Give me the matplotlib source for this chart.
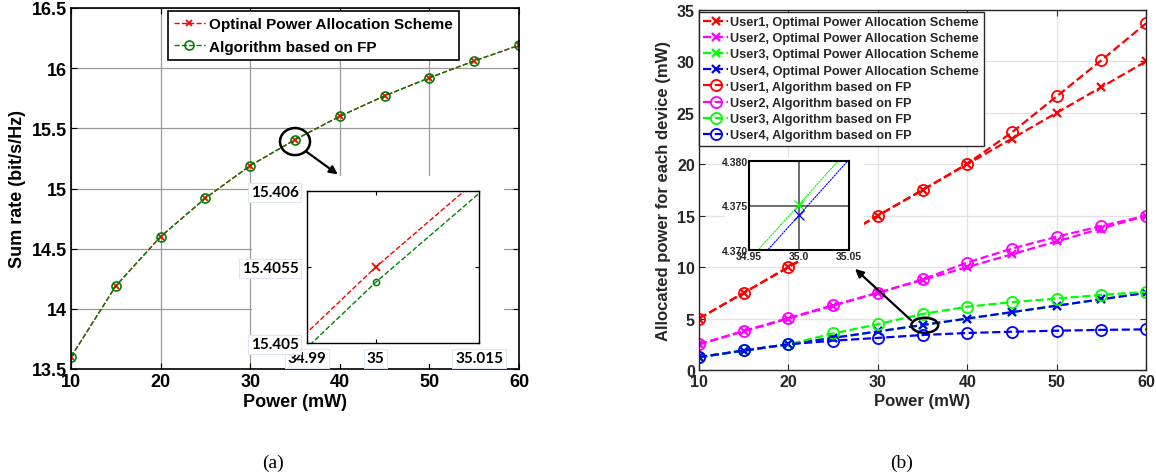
import matplotlib
matplotlib.use('Agg')
import matplotlib.pyplot as plt
from matplotlib.patches import Ellipse, Rectangle, FancyArrowPatch

plt.rcParams['font.family'] = ['Liberation Sans', 'DejaVu Sans']
plt.rcParams['font.weight'] = 'bold'
plt.rcParams['axes.labelweight'] = 'bold'

W, H = 1156, 477

# data
power = [10, 15, 20, 25, 30, 35, 40, 45, 50, 55, 60]
rate_opt = [13.60, 14.19, 14.60, 14.92, 15.19, 15.4055, 15.60, 15.77, 15.92, 16.06, 16.19]
rate_fp = [13.60, 14.19, 14.60, 14.92, 15.19, 15.4054, 15.60, 15.77, 15.92, 16.06, 16.19]

opt_u1 = [5.0, 7.5, 10.0, 12.5, 15.0, 17.5, 20.0, 22.5, 25.0, 27.5, 30.0]
opt_u2 = [2.5, 3.75, 5.0, 6.25, 7.5, 8.75, 10.0, 11.25, 12.5, 13.75, 15.0]
opt_u3 = [1.25, 1.875, 2.5, 3.125, 3.75, 4.3751, 5.0, 5.625, 6.25, 6.875, 7.5]
opt_u4 = [1.25, 1.875, 2.5, 3.125, 3.75, 4.3739, 5.0, 5.625, 6.25, 6.875, 7.5]
fp_u1 = [5.0, 7.5, 10.0, 12.5, 15.0, 17.5, 20.05, 23.1, 26.6, 30.1, 33.7]
fp_u2 = [2.5, 3.8, 5.05, 6.3, 7.5, 8.8, 10.45, 11.8, 12.95, 14.0, 15.0]
fp_u3 = [1.25, 1.9, 2.5, 3.55, 4.45, 5.45, 6.15, 6.6, 6.95, 7.3, 7.6]
fp_u4 = [1.25, 1.9, 2.5, 2.85, 3.12, 3.4, 3.6, 3.72, 3.82, 3.9, 3.95]

user_colors = ['#ff0000', '#ff00ff', '#00ff00', '#0000ff']
opt_series = [opt_u1, opt_u2, opt_u3, opt_u4]
fp_series = [fp_u1, fp_u2, fp_u3, fp_u4]


def box(x0, y0, x1, y1):
    return [x0 / W, 1 - y1 / H, (x1 - x0) / W, (y1 - y0) / H]


def fpt(x, y):
    return (x / W, 1 - y / H)


fig = plt.figure(figsize=(W / 100, H / 100), dpi=100)

# ---------------- (a) sum rate ----------------
ax1 = fig.add_axes(box(71, 9, 519, 370))
ax1.plot(power, rate_opt, '--x', color='#ff0000', lw=1.0, ms=5, mew=1.3,
         label='Optinal Power Allocation Scheme')
ax1.plot(power, rate_fp, '--o', color='#008000', lw=1.0, ms=6.5, mfc='none',
         mew=1.2, label='Algorithm based on FP')
ax1.set_xlim(10, 60)
ax1.set_ylim(13.5, 16.5)
ax1.set_xticks(range(10, 61, 10))
ax1.set_yticks([13.5, 14, 14.5, 15, 15.5, 16, 16.5])
ax1.set_yticklabels(['13.5', '14', '14.5', '15', '15.5', '16', '16.5'])
ax1.grid(True, color='#9a9a9a', lw=0.9)
ax1.tick_params(direction='in', length=4, top=True, right=True, labelsize=13, pad=3)
for s in ax1.spines.values():
    s.set_linewidth(1.2)
ax1.set_xlabel('Power (mW)', fontsize=13, labelpad=2)
ax1.set_ylabel('Sum rate (bit/s/Hz)', fontsize=13, labelpad=4)
leg1 = ax1.legend(loc='upper left', bbox_to_anchor=fpt(168, 12), bbox_transform=fig.transFigure,
                  borderaxespad=0, fontsize=11, handlelength=2.0, labelspacing=0.55,
                  fancybox=False, framealpha=1, edgecolor='black', handletextpad=0.3)
leg1.get_frame().set_linewidth(1.2)
ax1.add_patch(Ellipse((35.0, 15.39), 3.35, 0.225, fill=False, ec='black', lw=1.8, zorder=5))

fig.add_artist(Rectangle((252 / W, 1 - 365 / H), (504 - 252) / W, (365 - 177) / H,
                         transform=fig.transFigure, fc='white', ec='none', zorder=1))

ins1 = fig.add_axes(box(307, 192, 479, 344))
ins1.set_zorder(3)
ins1.plot(power, rate_opt, '--x', color='#ff0000', lw=1.0, ms=6, mew=1.3)
ins1.plot(power, rate_fp, '--o', color='#008000', lw=1.0, ms=4.5, mfc='none', mew=1.1)
ins1.set_xlim(34.99, 35.015)
ins1.set_ylim(15.405, 15.406)
ins1.set_xticks([34.99, 35, 35.015])
ins1.set_xticklabels(['34.99', '35', '35.015'])
ins1.set_yticks([15.405, 15.4055, 15.406])
ins1.set_yticklabels(['15.405', '15.4055', '15.406'])
ins1.tick_params(direction='in', length=3, top=True, right=True, labelsize=11, pad=6)
for t in ins1.get_xticklabels() + ins1.get_yticklabels():
    t.set_fontfamily('Lato')
    t.set_fontweight('bold')
    t.set_bbox(dict(fc='white', ec='#dde6f2', lw=0.8, pad=2))
for s in ins1.spines.values():
    s.set_linewidth(1.0)

fig.add_artist(FancyArrowPatch(fpt(304, 151), fpt(340, 177), transform=fig.transFigure,
                               arrowstyle='-|>', mutation_scale=12, color='black', lw=1.6,
                               zorder=5))

# ---------------- (b) allocated power ----------------
ax2 = fig.add_axes(box(699, 11, 1146, 371))
for i in range(4):
    ax2.plot(power, opt_series[i], '--x', color=user_colors[i], lw=1.6, ms=5.5, mew=1.6,
             label='User%d, Optimal Power Allocation Scheme' % (i + 1))
for i in range(4):
    ax2.plot(power, fp_series[i], '--o', color=user_colors[i], lw=1.6, ms=8, mfc='none',
             mew=1.3, label='User%d, Algorithm based on FP' % (i + 1))
ax2.set_xlim(10, 60)
ax2.set_ylim(0, 35)
ax2.set_xticks(range(10, 61, 10))
ax2.set_yticks(range(0, 36, 5))
ax2.grid(True, color='#e2e2e2', lw=0.9)
ax2.tick_params(direction='in', length=4, top=True, right=True, labelsize=11.5, pad=3,
                colors='#262626')
for s in ax2.spines.values():
    s.set_linewidth(1.0)
    s.set_color('#262626')
ax2.set_xlabel('Power (mW)', fontsize=12, labelpad=3, color='#262626')
ax2.set_ylabel('Allocated power for each device (mW)', fontsize=12, labelpad=4, color='#262626')
leg2 = ax2.legend(loc='upper left', bbox_to_anchor=fpt(699, 12.5), bbox_transform=fig.transFigure,
                  borderaxespad=0, fontsize=9.2, handlelength=1.9, labelspacing=0.33,
                  fancybox=False, framealpha=1, edgecolor='#262626', handletextpad=0.2,
                  borderpad=0.35)
leg2.get_frame().set_linewidth(1.0)
for t in leg2.get_texts():
    t.set_color('#262626')
ax2.add_patch(Ellipse((35.25, 4.35), 3.0, 1.46, fill=False, ec='black', lw=1.8, zorder=5))

fig.add_artist(Rectangle((725 / W, 1 - 262 / H), (864 - 725) / W, (262 - 158) / H,
                         transform=fig.transFigure, fc='white', ec='none', zorder=1))

ins2 = fig.add_axes(box(749, 162, 849, 251))
ins2.set_zorder(3)
for i in range(4):
    ins2.plot(power, opt_series[i], linestyle=(0, (2, 0.6)), marker='x', color=user_colors[i],
              lw=0.8, ms=7, mew=0.9)
for i in range(4):
    ins2.plot(power, fp_series[i], linestyle=(0, (2, 0.6)), marker='o', color=user_colors[i],
              lw=0.8, ms=7, mfc='none', mew=0.9)
ins2.set_xlim(34.95, 35.05)
ins2.set_ylim(4.370, 4.380)
ins2.set_xticks([34.95, 35.0, 35.05])
ins2.set_xticklabels(['34.95', '35.0', '35.05'])
ins2.set_yticks([4.370, 4.375, 4.380])
ins2.set_yticklabels(['4.370', '4.375', '4.380'])
ins2.grid(True, color='#6e6e6e', lw=1.4)
ins2.tick_params(length=0, labelsize=7.5, pad=0.5, colors='#262626')
for s in ins2.spines.values():
    s.set_linewidth(1.5)

fig.add_artist(FancyArrowPatch(fpt(913, 323), fpt(853, 268), transform=fig.transFigure,
                               arrowstyle='-|>', mutation_scale=12, color='black', lw=1.6,
                               zorder=5))

# captions
fig.text(273 / W, 1 - 463 / H, '(a)', family='Liberation Serif', fontweight='normal',
         fontsize=14, ha='center', va='center')
fig.text(902 / W, 1 - 463 / H, '(b)', family='Liberation Serif', fontweight='normal',
         fontsize=14, ha='center', va='center')

fig.savefig('out.png', dpi=100)
